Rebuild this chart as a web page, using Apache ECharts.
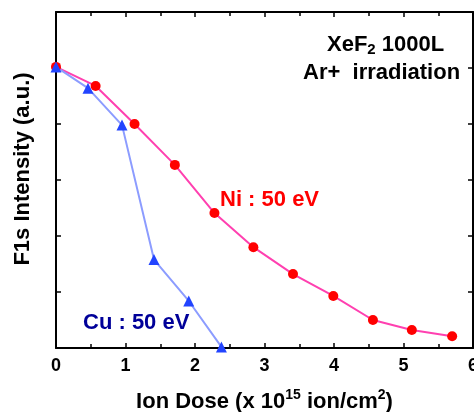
<!DOCTYPE html>
<html>
<head>
<meta charset="utf-8">
<script src="https://cdn.jsdelivr.net/npm/echarts@6/dist/echarts.min.js"></script>
<style>
  html, body { margin: 0; padding: 0; background: #fff; }
</style>
</head>
<body>
<div id="chart" style="width: 474px; height: 412px"></div>
<script>
// Ni : 50 eV
const doseNi = [0, 0.57, 1.13, 1.71, 2.28, 2.84, 3.41, 3.99, 4.56, 5.12, 5.70];
const intensityNi = [5.02, 4.68, 4.0, 3.27, 2.41, 1.80, 1.32, 0.93, 0.50, 0.32, 0.21];
// Cu : 50 eV
const doseCu = [0, 0.46, 0.95, 1.41, 1.91, 2.38];
const intensityCu = [5.02, 4.64, 3.98, 1.58, 0.84, 0.02];
const xTicks = [0, 1, 2, 3, 4, 5, 6];

const font = 'Liberation Sans, Arial, sans-serif';
const chart = echarts.init(document.getElementById('chart'));

// 四边坐标轴共用的样式
const axisBase = {
  min: 0,
  max: 6,
  interval: 1,
  axisLine: { onZero: false, lineStyle: { color: '#000', width: 2 } },
  axisTick: { inside: true, length: 5, lineStyle: { color: '#000', width: 1.5 } },
  splitLine: { show: false }
};
const minor = { show: true, splitNumber: 2, length: 4, lineStyle: { color: '#000', width: 1.5 } };

chart.setOption({
  animation: false,
  grid: { left: 56, right: 1, top: 12, bottom: 64, outerBoundsMode: 'none' },
  xAxis: [
    Object.assign({}, axisBase, {
      type: 'value',
      position: 'bottom',
      minorTick: minor,
      axisLabel: {
        color: '#000', fontFamily: font, fontWeight: 'bold', fontSize: 18, margin: 9,
        formatter: v => xTicks.indexOf(v) >= 0 ? String(v) : ''
      },
      name: '{n|Ion Dose (x 10}{s|15}{n| ion/cm}{s|2}{n|)}',
      nameLocation: 'middle',
      nameGap: 40,
      nameTextStyle: {
        rich: {
          n: { fontFamily: font, fontWeight: 'bold', fontSize: 22, color: '#000' },
          s: { fontFamily: font, fontWeight: 'bold', fontSize: 14, color: '#000', verticalAlign: 'top', padding: [0, 0, 14, 0] }
        }
      }
    }),
    Object.assign({}, axisBase, {
      type: 'value',
      position: 'top',
      minorTick: minor,
      axisLabel: { show: false }
    })
  ],
  yAxis: [
    Object.assign({}, axisBase, {
      type: 'value',
      position: 'left',
      axisLabel: { show: false }
    }),
    Object.assign({}, axisBase, {
      type: 'value',
      position: 'right',
      axisLabel: { show: false }
    })
  ],
  series: [
    {
      name: 'Ni : 50 eV',
      type: 'line',
      data: doseNi.map((d, i) => [d, intensityNi[i]]),
      symbol: 'circle',
      symbolSize: 10,
      lineStyle: { color: '#ff40b0', width: 2 },
      itemStyle: { color: '#ff0000' }
    },
    {
      name: 'Cu : 50 eV',
      type: 'line',
      data: doseCu.map((d, i) => [d, intensityCu[i]]),
      symbol: 'triangle',
      symbolSize: 11,
      lineStyle: { color: '#8c9cff', width: 2 },
      itemStyle: { color: '#2244ff' }
    }
  ],
  graphic: [
    {
      type: 'text', x: 23, y: 169, rotation: Math.PI / 2,
      style: {
        text: 'F1s Intensity (a.u.)', fontFamily: font, fontWeight: 'bold', fontSize: 22, fill: '#000',
        align: 'center', verticalAlign: 'middle'
      }
    },
    {
      type: 'text', left: 327, top: 34,
      style: {
        text: '{b|XeF}{sub|2}{b| 1000L}',
        rich: {
          b: { fontFamily: font, fontWeight: 'bold', fontSize: 22, fill: '#000' },
          sub: { fontFamily: font, fontWeight: 'bold', fontSize: 15, fill: '#000', padding: [10, 0, 0, 0] }
        }
      }
    },
    {
      type: 'text', left: 303, top: 62,
      style: { text: 'Ar+  irradiation', fontFamily: font, fontWeight: 'bold', fontSize: 22, fill: '#000' }
    },
    {
      type: 'text', left: 220, top: 189,
      style: { text: 'Ni : 50 eV', fontFamily: font, fontWeight: 'bold', fontSize: 22, fill: '#ff0000' }
    },
    {
      type: 'text', left: 83, top: 312,
      style: { text: 'Cu : 50 eV', fontFamily: font, fontWeight: 'bold', fontSize: 22, fill: '#000099' }
    }
  ]
});
</script>
</body>
</html>
